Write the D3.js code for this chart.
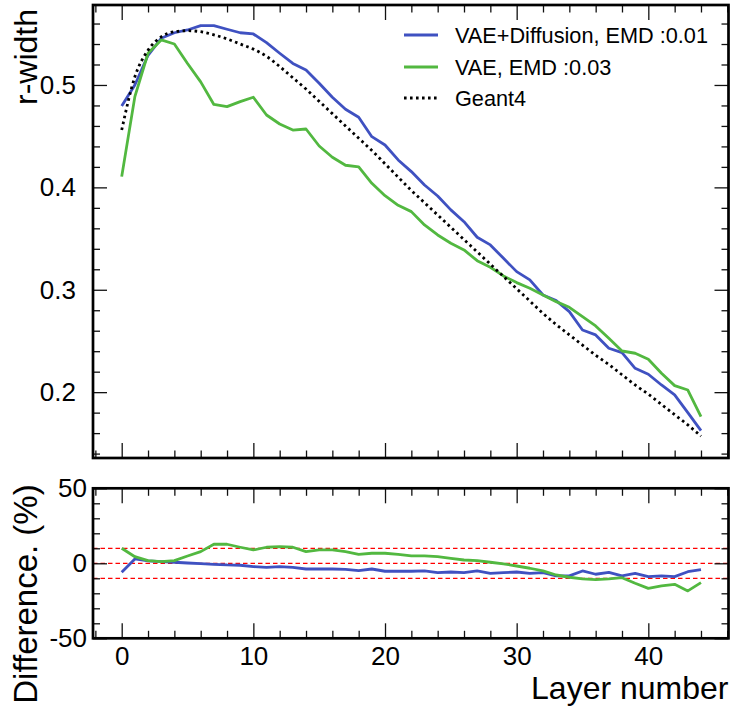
<!DOCTYPE html>
<html><head><meta charset="utf-8">
<script src="https://cdn.jsdelivr.net/npm/d3@7"></script>
<style>
body{margin:0;background:#fff}
svg{display:block}
text{font-family:"Liberation Sans",Arial,Helvetica,sans-serif;fill:#000}
</style>
</head><body>
<svg id="chart" width="733" height="712"></svg>
<script>
// ---------------- data ----------------
const layers = d3.range(0, 45);
const geant4 = [0.456,0.508,0.534,0.547,0.552,0.553,0.552,0.549,0.545,0.540,
  0.535,0.528,0.518,0.507,0.496,0.484,0.472,0.460,0.448,0.436,
  0.423,0.410,0.397,0.385,0.373,0.361,0.349,0.337,0.325,0.313,
  0.301,0.289,0.277,0.266,0.256,0.246,0.236,0.227,0.217,0.207,
  0.198,0.188,0.178,0.168,0.157];
const vaeDiffusion = [0.4795,0.500,0.529,0.5456,0.551,0.5537,0.558,0.558,0.5544,0.551,
  0.5498,0.5413,0.531,0.521,0.5146,0.5017,0.488,0.4763,0.4685,0.4495,
  0.4414,0.4268,0.4154,0.4023,0.3916,0.378,0.3665,0.3513,0.3438,0.3307,
  0.3177,0.3096,0.2949,0.2894,0.2786,0.2607,0.2559,0.2429,0.2386,0.2233,
  0.2175,0.207,0.1973,0.180,0.1624];
const vae = [0.4105,0.4886,0.531,0.544,0.540,0.521,0.503,0.481,0.4788,0.4837,
  0.488,0.4707,0.4619,0.456,0.457,0.4404,0.4294,0.4216,0.420,0.404,
  0.3919,0.3825,0.3763,0.3633,0.3535,0.3454,0.3389,0.3284,0.322,0.3135,
  0.307,0.3015,0.295,0.2884,0.2829,0.2738,0.2647,0.2526,0.2402,0.238,
  0.2321,0.2184,0.2064,0.2021,0.176];
const diffVaeDiffusion = [-6,2.9,1.6,1.1,0.7,0.2,-0.2,-0.7,-1.1,-1.3,
  -2.2,-2.7,-2.2,-2.7,-3.8,-3.8,-3.8,-4,-4.9,-3.8,
  -5.3,-5.3,-5.3,-5.1,-6.2,-5.8,-6.2,-5.1,-6.7,-6.2,
  -5.8,-6.7,-6.2,-8.4,-8.4,-5.1,-7.3,-6,-8.4,-6.7,
  -8.9,-8.4,-8.9,-5.6,-4.2];
const diffVae = [10,4.4,1.8,1.1,1.8,4.9,7.8,12.7,12.7,10.7,
  8.9,10.7,11.1,10.7,7.8,8.9,8.9,7.8,6,6.7,
  6.7,6,4.9,4.9,4.4,3.3,2.2,1.8,0.7,-0.4,
  -1.8,-3.3,-5.1,-7.8,-9.3,-10.4,-10.9,-10.4,-9.6,-13.3,
  -16.7,-15.1,-14,-18.4,-12.9];

const xMajorTicks = [0,10,20,30,40];
const topYMajorTicks = [0.2,0.3,0.4,0.5];
const topYLabels = ["0.2","0.3","0.4","0.5"];
const bottomYMajorTicks = [-50,0,50];
const bottomYLabels = ["-50","0","50"];
const referenceLines = [10,0,-10];
const seriesNames = ["VAE+Diffusion, EMD :0.01","VAE, EMD :0.03","Geant4"];
const yTitleTop = "r-width";
const yTitleBottom = "Difference. (%)";
const xTitle = "Layer number";

// ---------------- layout ----------------
const COL_BLUE = "#3f51c1", COL_GREEN = "#52b840";
const L = 93, R = 728.5;
const topPanel = {t: 5, b: 458};
const botPanel = {t: 488.3, b: 638.3};

const svg = d3.select("#chart");

const x = d3.scaleLinear().domain([-2.18, 46.09]).range([L, R]);
const yTop = d3.scaleLinear().domain([0.1357, 0.5781]).range([topPanel.b, topPanel.t]);
const yBot = d3.scaleLinear().domain([-50, 50]).range([botPanel.b, botPanel.t]);

const xMinor = d3.range(-2, 47, 2).filter(v => v >= -2.18 && v <= 46.09 && !xMajorTicks.includes(v));
const topYMinor = d3.range(14, 58, 2).map(v => v/100).filter(v => !topYMajorTicks.some(m => Math.abs(m-v) < 1e-9));
const botYMinor = [-40,-30,-20,-10,10,20,30,40];

function tickStyle(g){
  g.select(".domain").remove();
  g.selectAll(".tick line").attr("stroke","#111").attr("stroke-width",1.3);
}

function drawFrameTicks(yScale, panel, yMajor, yMinorV){
  [[d3.axisBottom, panel.b],[d3.axisTop, panel.t]].forEach(([ax, pos]) => {
    svg.append("g").attr("transform",`translate(0,${pos})`)
      .call(ax(x).tickValues(xMajorTicks).tickSizeInner(-15).tickSizeOuter(0).tickFormat(""))
      .call(tickStyle);
    svg.append("g").attr("transform",`translate(0,${pos})`)
      .call(ax(x).tickValues(xMinor).tickSizeInner(-7.5).tickSizeOuter(0).tickFormat(""))
      .call(tickStyle);
  });
  [[d3.axisLeft, L],[d3.axisRight, R]].forEach(([ax, pos]) => {
    svg.append("g").attr("transform",`translate(${pos},0)`)
      .call(ax(yScale).tickValues(yMajor).tickSizeInner(-14).tickSizeOuter(0).tickFormat(""))
      .call(tickStyle);
    svg.append("g").attr("transform",`translate(${pos},0)`)
      .call(ax(yScale).tickValues(yMinorV).tickSizeInner(-7).tickSizeOuter(0).tickFormat(""))
      .call(tickStyle);
  });
}

// ---------- top panel ----------
const lineTop = (arr) => d3.line().x((d,i) => x(layers[i])).y(d => yTop(d))(arr);

svg.append("path").attr("d", lineTop(vaeDiffusion)).attr("fill","none")
  .attr("stroke",COL_BLUE).attr("stroke-width",2.8).attr("stroke-linejoin","round");
svg.append("path").attr("d", lineTop(vae)).attr("fill","none")
  .attr("stroke",COL_GREEN).attr("stroke-width",2.8).attr("stroke-linejoin","round");
svg.append("path").attr("d", d3.line().curve(d3.curveMonotoneX).x((d,i)=>x(layers[i])).y(d=>yTop(d))(geant4))
  .attr("fill","none").attr("stroke","#000").attr("stroke-width",2.8)
  .attr("stroke-dasharray","2.6 3.4");

drawFrameTicks(yTop, topPanel, topYMajorTicks, topYMinor);
svg.append("rect").attr("x",L).attr("y",topPanel.t).attr("width",R-L).attr("height",topPanel.b-topPanel.t)
  .attr("fill","none").attr("stroke","#000").attr("stroke-width",2.7);

svg.append("g").attr("transform",`translate(${L},0)`)
  .call(d3.axisLeft(yTop).tickValues(topYMajorTicks).tickSize(0).tickPadding(17)
    .tickFormat((d,i) => topYLabels[i]))
  .call(g => g.select(".domain").remove())
  .call(g => g.selectAll("text").attr("font-size",26).style("font-family","'Liberation Sans',Arial,sans-serif"));

svg.append("text").attr("transform",`translate(37,${topPanel.t+4}) rotate(-90)`)
  .attr("text-anchor","end").attr("font-size",32).text(yTitleTop);

// legend
const legendY = [35, 67, 98];
const legendStyles = [
  {stroke: COL_BLUE, dash: null},
  {stroke: COL_GREEN, dash: null},
  {stroke: "#000", dash: "2.6 3.4"}
];
seriesNames.forEach((name, i) => {
  svg.append("line").attr("x1",404).attr("x2",438).attr("y1",legendY[i]).attr("y2",legendY[i])
    .attr("stroke",legendStyles[i].stroke).attr("stroke-width",2.8)
    .attr("stroke-dasharray",legendStyles[i].dash);
  svg.append("text").attr("x",455).attr("y",legendY[i]).attr("dy","0.36em")
    .attr("font-size",21.7).text(name);
});

// ---------- bottom panel ----------
referenceLines.forEach(v => {
  svg.append("line").attr("x1",L).attr("x2",R).attr("y1",yBot(v)).attr("y2",yBot(v))
    .attr("stroke","#ff0000").attr("stroke-width",1.3).attr("stroke-dasharray","4.5 3");
});
const lineBot = (arr) => d3.line().x((d,i) => x(layers[i])).y(d => yBot(d))(arr);
svg.append("path").attr("d", lineBot(diffVaeDiffusion)).attr("fill","none")
  .attr("stroke",COL_BLUE).attr("stroke-width",2.8).attr("stroke-linejoin","round");
svg.append("path").attr("d", lineBot(diffVae)).attr("fill","none")
  .attr("stroke",COL_GREEN).attr("stroke-width",2.8).attr("stroke-linejoin","round");

drawFrameTicks(yBot, botPanel, bottomYMajorTicks, botYMinor);
svg.append("rect").attr("x",L).attr("y",botPanel.t).attr("width",R-L).attr("height",botPanel.b-botPanel.t)
  .attr("fill","none").attr("stroke","#000").attr("stroke-width",2.7);

svg.append("g").attr("transform",`translate(${L},0)`)
  .call(d3.axisLeft(yBot).tickValues(bottomYMajorTicks).tickSize(0).tickPadding(6)
    .tickFormat((d,i) => bottomYLabels[i]))
  .call(g => g.select(".domain").remove())
  .call(g => g.selectAll("text").attr("font-size",26).style("font-family","'Liberation Sans',Arial,sans-serif"));

svg.append("g").attr("transform",`translate(0,${botPanel.b})`)
  .call(d3.axisBottom(x).tickValues(xMajorTicks).tickSize(0).tickPadding(8.5))
  .call(g => g.select(".domain").remove())
  .call(g => g.selectAll("text").attr("font-size",26).style("font-family","'Liberation Sans',Arial,sans-serif"));

svg.append("text").attr("transform",`translate(37,${botPanel.t-4}) rotate(-90)`)
  .attr("text-anchor","end").attr("font-size",33).text(yTitleBottom);

svg.append("text").attr("x",R).attr("y",699).attr("text-anchor","end")
  .attr("font-size",32).text(xTitle);
</script>
</body></html>
